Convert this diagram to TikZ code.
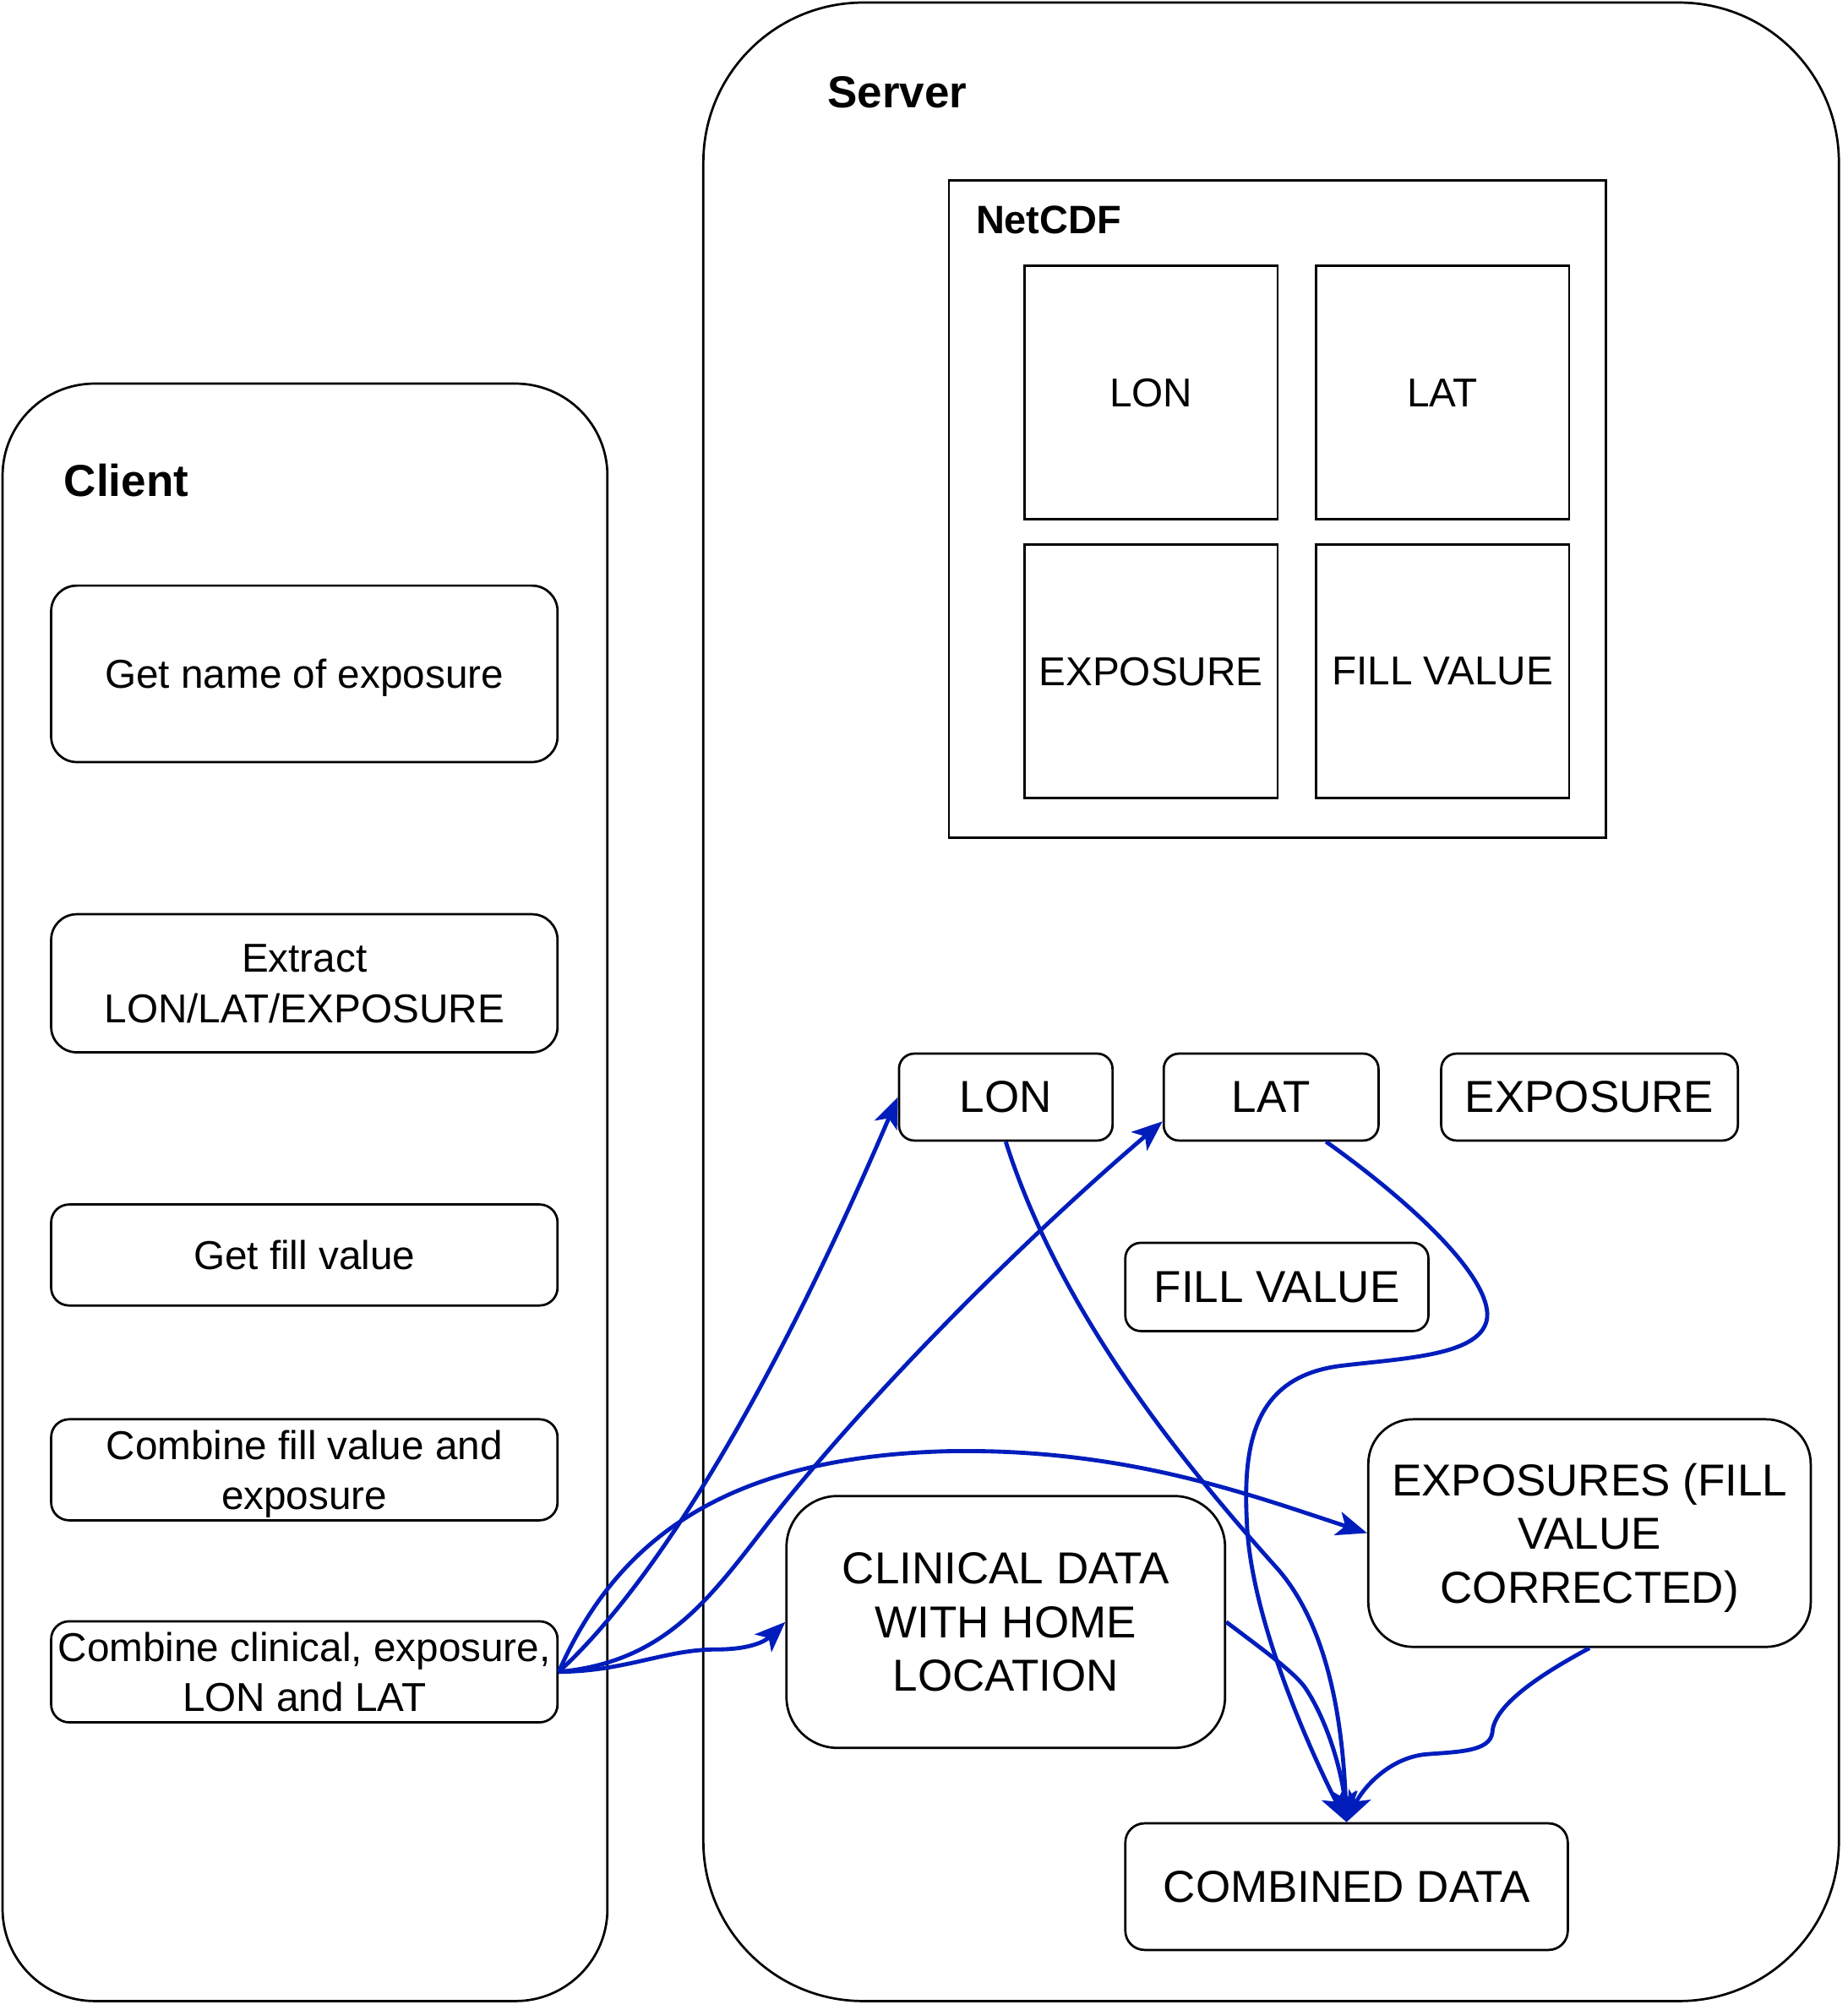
\documentclass[tikz,border=0pt]{standalone}
\usepackage{fontspec}
\setmainfont{Liberation Sans}
\usetikzlibrary{arrows.meta,calc}
\definecolor{flowblue}{HTML}{001DBC}
\begin{document}
\begin{tikzpicture}[x=1pt,y=-1pt,
  every node/.style={inner sep=0pt, align=center},
  container/.style={draw, line width=1.8pt, rounded corners=#1},
  box/.style={draw, line width=1.8pt, rounded corners=#1, text depth=0pt},
  sqbox/.style={draw, line width=1.8pt, text depth=0pt},
  txt/.style={font=\fontsize{31.5}{39.5}\selectfont},
  bigtxt/.style={font=\fontsize{35}{42}\selectfont},
  title/.style={font=\fontsize{35}{42}\selectfont\bfseries, anchor=base west},
  flow/.style={draw=flowblue, line width=3.2pt, -{Stealth[length=24pt,width=19pt,inset=6pt]}}
]
\useasboundingbox (0,0) rectangle (1445,1572);

% containers
\node[container=72, minimum width=473pt, minimum height=1265pt] (client) at (238.5,932.5) {};
\node[container=125, minimum width=888pt, minimum height=1563pt] (server) at (994,783.5) {};
\node[title] (clienttitle) at (50,388) {Client};
\node[title] (servertitle) at (647,84) {Server};

% NetCDF
\node[sqbox, minimum width=514pt, minimum height=514pt] (netcdf) at (999,398) {};
\node[title, font=\fontsize{31}{38}\selectfont\bfseries] (netcdftitle) at (763,182.5) {NetCDF};
\node[sqbox, txt, minimum width=198pt, minimum height=198pt] (nlon) at (900,307) {LON};
\node[sqbox, txt, minimum width=198pt, minimum height=198pt] (nlat) at (1128,307) {LAT};
\node[sqbox, txt, minimum width=198pt, minimum height=198pt] (nexp) at (900,525) {EXPOSURE};
\node[sqbox, txt, minimum width=198pt, minimum height=198pt] (nfill) at (1128,525) {FILL VALUE};

% client steps
\node[box=20, txt, minimum width=396pt, minimum height=138pt] (c1) at (238,527) {Get name of exposure};
\node[box=20, txt, minimum width=396pt, minimum height=108pt] (c2) at (238,769) {Extract\\LON/LAT/EXPOSURE};
\node[box=14, txt, minimum width=396pt, minimum height=79pt] (c3) at (238,981.5) {Get fill value};
\node[box=14, txt, minimum width=396pt, minimum height=79pt] (c4) at (238,1149.5) {Combine fill value and\\exposure};
\node[box=14, txt, minimum width=396pt, minimum height=79pt] (c5) at (238,1307.5) {Combine clinical, exposure,\\LON and LAT};

% server items
\node[box=12, bigtxt, minimum width=167pt, minimum height=68pt] (lon) at (786.5,858) {LON};
\node[box=12, bigtxt, minimum width=168pt, minimum height=68pt] (lat) at (994,858) {LAT};
\node[box=12, bigtxt, minimum width=232pt, minimum height=68pt] (expo) at (1243,858) {EXPOSURE};
\node[box=12, bigtxt, minimum width=237pt, minimum height=69pt] (fill) at (998.5,1006.5) {FILL VALUE};
\node[box=40, bigtxt, minimum width=343pt, minimum height=197pt] (clin) at (786.5,1268.5) {CLINICAL DATA\\WITH HOME\\LOCATION};
\node[box=35, bigtxt, minimum width=346pt, minimum height=178pt] (ex2) at (1243,1199) {EXPOSURES (FILL\\VALUE\\CORRECTED)};
\node[box=15, bigtxt, minimum width=346pt, minimum height=99pt] (comb) at (1053,1475.5) {COMBINED DATA};

\coordinate (lattip) at ($(lat.west)+(0,19)$);
\coordinate (latout) at ($(lat.south)+(43,0)$);

% connectors from client step 5
\draw[flow] (c5.east) .. controls (500,1250) and (590,1120) .. (lon.west);
\draw[flow] (c5.east) .. controls (520,1300) and (555,1250) .. (600,1192)
  .. controls (680,1090) and (800,970) .. (lattip);
\draw[flow] (c5.east) .. controls (480,1210) and (560,1140) .. (740,1135)
  .. controls (880,1132) and (980,1170) .. (ex2.west);
\draw[flow] (c5.east) .. controls (490,1307) and (520,1290) .. (560,1290)
  .. controls (590,1290) and (600,1282) .. (clin.west);

% connectors into combined data
\draw[flow] (lon.south) .. controls (830,1030) and (930,1150) .. (1000,1228)
  .. controls (1040,1275) and (1050,1350) .. (comb.north);
\draw[flow] (latout) .. controls (1110,945) and (1165,1000) .. (1163,1030)
  .. controls (1160,1060) and (1100,1062) .. (1050,1068)
  .. controls (980,1076) and (972,1130) .. (975,1190)
  .. controls (978,1270) and (1030,1380) .. (comb.north);
\draw[flow] (clin.east) .. controls (990,1292) and (1015,1310) .. (1022,1322)
  .. controls (1040,1350) and (1050,1390) .. (comb.north);
\draw[flow] (ex2.south) .. controls (1200,1312) and (1168,1335) .. (1167,1355)
  .. controls (1165,1370) and (1140,1370) .. (1115,1372)
  .. controls (1085,1375) and (1065,1400) .. (comb.north);
\end{tikzpicture}
\end{document}
